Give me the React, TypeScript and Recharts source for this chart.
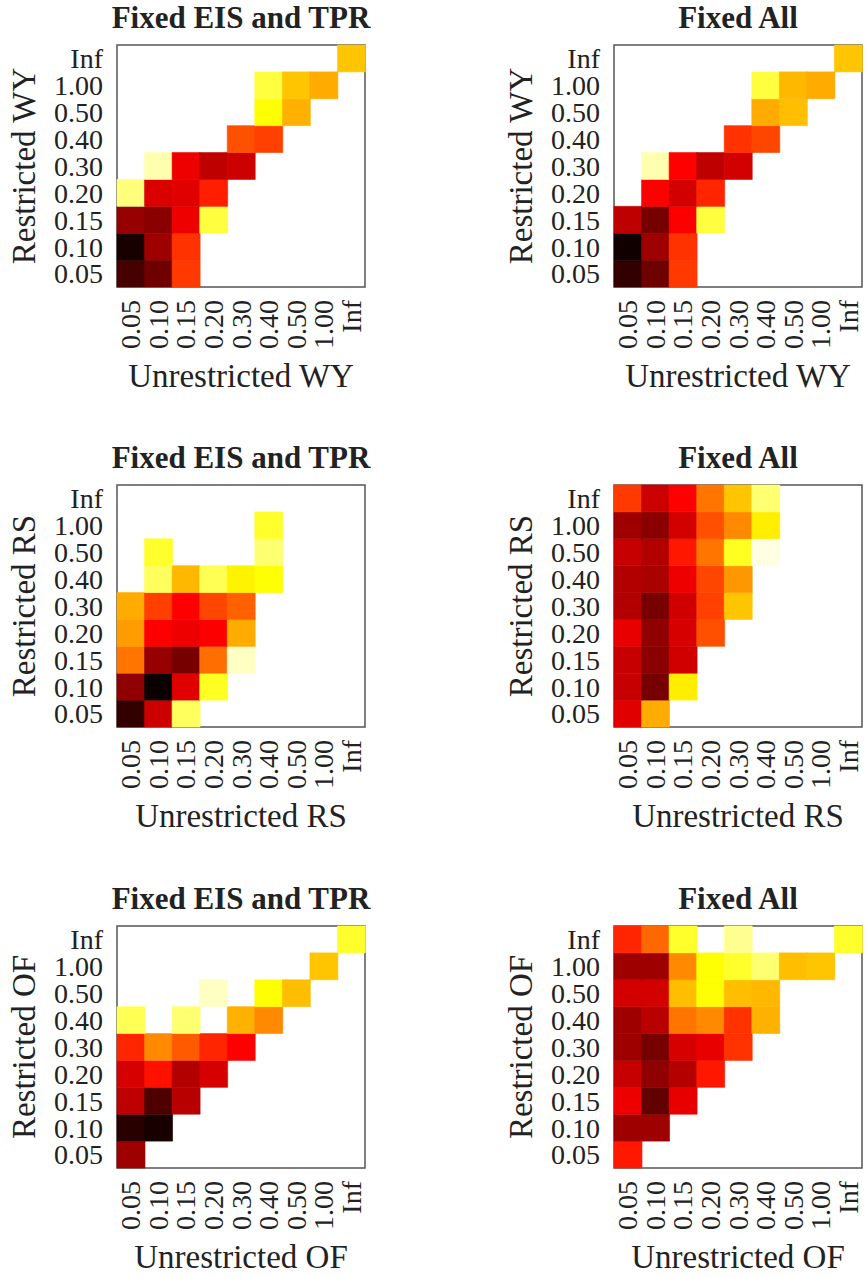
import React from 'react';
import { BarChart, Bar, Cell, XAxis, YAxis, Label, ReferenceArea } from 'recharts';

const _ = null;

// tick labels shared by every panel
const colLabels = ['0.05', '0.10', '0.15', '0.20', '0.30', '0.40', '0.50', '1.00', 'Inf'];
const rowLabels = ['Inf', '1.00', '0.50', '0.40', '0.30', '0.20', '0.15', '0.10', '0.05']; // top -> bottom

// heat levels (0 = black, 1 = white on the "hot" scale), rows top -> bottom
const wyEisTpr = [
  [_, _, _, _, _, _, _, _, 0.66],
  [_, _, _, _, _, 0.81, 0.66, 0.62, _],
  [_, _, _, _, _, 0.75, 0.63, _, _],
  [_, _, _, _, 0.485, 0.46, _, _, _],
  [_, 0.92, 0.34, 0.27, 0.29, _, _, _, _],
  [0.87, 0.31, 0.32, 0.41, _, _, _, _, _],
  [0.21, 0.19, 0.34, 0.81, _, _, _, _, _],
  [0.02, 0.22, 0.44, _, _, _, _, _, _],
  [0.09, 0.15, 0.45, _, _, _, _, _, _],
];

const wyAll = [
  [_, _, _, _, _, _, _, _, 0.66],
  [_, _, _, _, _, 0.81, 0.64, 0.62, _],
  [_, _, _, _, _, 0.62, 0.65, _, _],
  [_, _, _, _, 0.44, 0.47, _, _, _],
  [_, 0.92, 0.365, 0.27, 0.3, _, _, _, _],
  [_, 0.365, 0.3, 0.42, _, _, _, _, _],
  [0.27, 0.16, 0.36, 0.81, _, _, _, _, _],
  [0.01, 0.22, 0.44, _, _, _, _, _, _],
  [0.06, 0.15, 0.45, _, _, _, _, _, _],
];

const rsEisTpr = [
  [_, _, _, _, _, _, _, _, _],
  [_, _, _, _, _, 0.79, _, _, _],
  [_, 0.79, _, _, _, 0.86, _, _, _],
  [_, 0.84, 0.64, 0.83, 0.73, 0.75, _, _, _],
  [0.62, 0.46, 0.365, 0.47, 0.51, _, _, _, _],
  [0.6, 0.36, 0.34, 0.36, 0.62, _, _, _, _],
  [0.54, 0.21, 0.16, 0.53, 0.94, _, _, _, _],
  [0.2, 0.0, 0.32, 0.78, _, _, _, _, _],
  [0.06, 0.29, 0.84, _, _, _, _, _, _],
];

const rsAll = [
  [0.45, 0.29, 0.365, 0.54, 0.66, 0.86, _, _, _],
  [0.22, 0.19, 0.3, 0.485, 0.57, 0.72, _, _, _],
  [0.28, 0.25, 0.4, 0.54, 0.78, 0.97, _, _, _],
  [0.25, 0.24, 0.34, 0.47, 0.59, _, _, _, _],
  [0.25, 0.16, 0.295, 0.46, 0.66, _, _, _, _],
  [0.33, 0.2, 0.305, 0.485, _, _, _, _, _],
  [0.28, 0.19, 0.295, _, _, _, _, _, _],
  [0.28, 0.16, 0.72, _, _, _, _, _, _],
  [0.32, 0.62, _, _, _, _, _, _, _],
];

const ofEisTpr = [
  [_, _, _, _, _, _, _, _, 0.79],
  [_, _, _, _, _, _, _, 0.66, _],
  [_, _, _, 0.94, _, 0.75, 0.65, _, _],
  [0.83, _, 0.86, _, 0.63, 0.57, _, _, _],
  [0.42, 0.57, 0.5, 0.42, 0.365, _, _, _, _],
  [0.305, 0.39, 0.25, 0.305, _, _, _, _, _],
  [0.27, 0.1, 0.26, _, _, _, _, _, _],
  [0.045, 0.02, _, _, _, _, _, _, _],
  [0.22, _, _, _, _, _, _, _, _],
];

const ofAll = [
  [0.42, 0.52, 0.79, _, 0.89, _, _, _, 0.79],
  [0.22, 0.22, 0.57, 0.75, 0.79, 0.86, 0.65, 0.66, _],
  [0.3, 0.3, 0.65, 0.75, 0.65, 0.64, _, _, _],
  [0.22, 0.26, 0.54, 0.57, 0.44, 0.63, _, _, _],
  [0.22, 0.16, 0.305, 0.33, 0.44, _, _, _, _],
  [0.28, 0.2, 0.255, 0.4, _, _, _, _, _],
  [0.34, 0.13, 0.33, _, _, _, _, _, _],
  [0.22, 0.22, _, _, _, _, _, _, _],
  [0.4, _, _, _, _, _, _, _, _],
];

const FONT = '"Liberation Serif", serif';
const INK = '#222';
const FRAME = '#555';

const clamp = (v: number) => Math.min(1, Math.max(0, v));

// matplotlib "hot" colormap
function hot(v: number) {
  const r = clamp(0.0416 + (1 - 0.0416) * (v / 0.365079));
  const g = clamp((v - 0.365079) / (0.746032 - 0.365079));
  const b = clamp((v - 0.746032) / (1 - 0.746032));
  const h = (x: number) => Math.round(x * 255).toString(16).padStart(2, '0');
  return `#${h(r)}${h(g)}${h(b)}`;
}

const XTick = (props: any) => {
  const { x, y, payload } = props;
  return (
    <text
      x={x}
      y={y}
      transform={`rotate(-90, ${x}, ${y})`}
      textAnchor="end"
      dominantBaseline="central"
      fontSize={28}
      fontFamily={FONT}
      fill={INK}
    >
      {payload.value}
    </text>
  );
};

type Props = {
  matrix: (number | null)[][];
  title: string;
  xLabel: string;
  yLabel: string;
  left: number;
  top: number;
  width: number;
};

function Heatmap({ matrix, title, xLabel, yLabel, left, top, width }: Props) {
  // one stacked column per x category, one unit segment per row (bottom row first)
  const data = colLabels.map((c) => {
    const row: any = { col: c };
    for (let k = 0; k < rowLabels.length; k++) row['r' + k] = 1;
    return row;
  });
  const rows = rowLabels.map((_l, k) => matrix.length - 1 - k);
  const yTicks = rowLabels.map((_l, k) => k + 0.5);

  return (
    <div style={{ position: 'absolute', left, top, width, height: 440 }}>
      <div
        style={{
          position: 'absolute',
          left: 111,
          top: 0,
          width: 260,
          textAlign: 'center',
          fontFamily: FONT,
          fontWeight: 'bold',
          fontSize: 31,
          lineHeight: '36px',
          color: INK,
          whiteSpace: 'nowrap',
        }}
      >
        {title}
      </div>
      <BarChart
        width={width}
        height={440}
        data={data}
        barCategoryGap={0}
        barGap={0}
        margin={{ top: 45, right: width - 365, left: 0, bottom: 0 }}
      >
        <XAxis
          dataKey="col"
          type="category"
          interval={0}
          height={153}
          tickSize={0}
          tickMargin={13}
          tick={<XTick />}
          axisLine={false}
        >
          <Label
            content={(p: any) => (
              <text
                x={p.viewBox.x + p.viewBox.width / 2}
                y={p.viewBox.y + 100}
                textAnchor="middle"
                fontSize={33}
                fontFamily={FONT}
                fill={INK}
              >
                {xLabel}
              </text>
            )}
          />
        </XAxis>
        <YAxis
          type="number"
          domain={[0, 9]}
          ticks={yTicks}
          interval={0}
          width={117}
          tickSize={0}
          tickMargin={14}
          tickFormatter={(v: number) => rowLabels[rowLabels.length - 1 - Math.floor(v)]}
          tick={{ fontSize: 28, fontFamily: FONT, fill: INK }}
          axisLine={false}
        >
          <Label
            content={(p: any) => {
              const cx = 24;
              const cy = p.viewBox.y + p.viewBox.height / 2;
              return (
                <text
                  x={cx}
                  y={cy}
                  transform={`rotate(-90, ${cx}, ${cy})`}
                  textAnchor="middle"
                  dominantBaseline="central"
                  fontSize={33}
                  fontFamily={FONT}
                  fill={INK}
                >
                  {yLabel}
                </text>
              );
            }}
          />
        </YAxis>
        {rows.map((ri, k) => (
          <Bar key={k} dataKey={'r' + k} stackId="s" isAnimationActive={false}>
            {colLabels.map((_c, ci) => {
              const v = matrix[ri][ci];
              const fill = v === null ? 'transparent' : hot(v);
              return (
                <Cell
                  key={ci}
                  fill={fill}
                  stroke={v === null ? 'none' : fill}
                  strokeWidth={0.6}
                />
              );
            })}
          </Bar>
        ))}
        {/* plot frame */}
        <ReferenceArea y1={0} y2={9} fill="none" stroke={FRAME} strokeWidth={1.5} fillOpacity={0} />
      </BarChart>
    </div>
  );
}

export default function App() {
  return (
    <div style={{ position: 'absolute', left: 0, top: 0, width: 867, height: 1278, background: '#fff' }}>
      <Heatmap matrix={wyEisTpr} title="Fixed EIS and TPR" xLabel="Unrestricted WY" yLabel="Restricted WY" left={0} top={0} width={433} />
      <Heatmap matrix={wyAll} title="Fixed All" xLabel="Unrestricted WY" yLabel="Restricted WY" left={497} top={0} width={370} />
      <Heatmap matrix={rsEisTpr} title="Fixed EIS and TPR" xLabel="Unrestricted RS" yLabel="Restricted RS" left={0} top={440} width={433} />
      <Heatmap matrix={rsAll} title="Fixed All" xLabel="Unrestricted RS" yLabel="Restricted RS" left={497} top={440} width={370} />
      <Heatmap matrix={ofEisTpr} title="Fixed EIS and TPR" xLabel="Unrestricted OF" yLabel="Restricted OF" left={0} top={881} width={433} />
      <Heatmap matrix={ofAll} title="Fixed All" xLabel="Unrestricted OF" yLabel="Restricted OF" left={497} top={881} width={370} />
    </div>
  );
}
